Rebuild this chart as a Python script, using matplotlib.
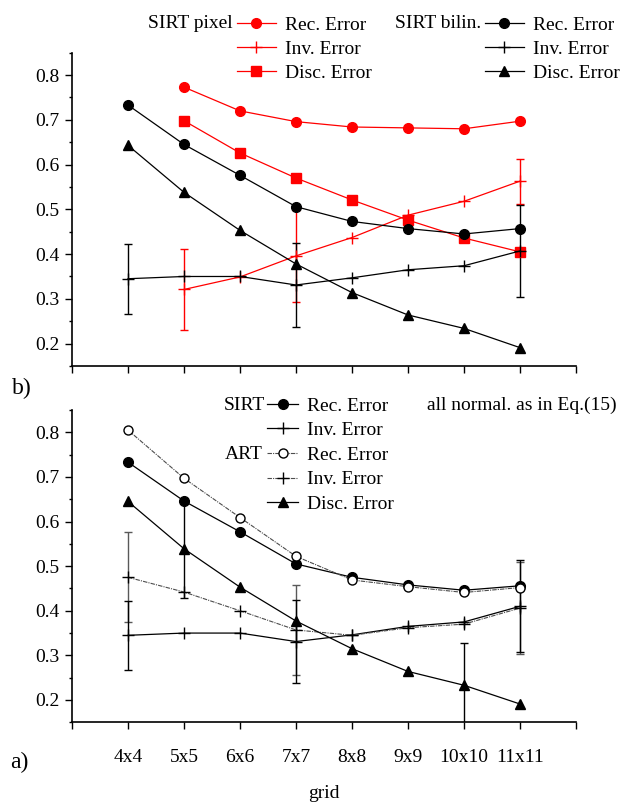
import numpy as np
import matplotlib
matplotlib.use("Agg")
import matplotlib.pyplot as plt
from matplotlib.ticker import MultipleLocator, FormatStrFormatter

nan = np.nan
grid = ['4x4', '5x5', '6x6', '7x7', '8x8', '9x9', '10x10', '11x11']

# ---- panel b) ----
pix_rec = [nan, 0.773, 0.720, 0.696, 0.684, 0.682, 0.680, 0.697]
pix_inv = [nan, 0.321, 0.349, 0.396, 0.437, 0.487, 0.518, 0.563]
pix_inv_err = [nan, 0.090, nan, 0.103, nan, nan, nan, 0.050]
pix_disc = [nan, 0.698, 0.626, 0.570, 0.521, 0.476, 0.436, 0.405]

bil_rec = [0.733, 0.645, 0.576, 0.506, 0.473, 0.457, 0.445, 0.457]
bil_inv = [0.345, 0.350, 0.350, 0.331, 0.347, 0.365, 0.374, 0.407]
bil_inv_err = [0.078, nan, nan, 0.094, nan, nan, nan, 0.103]
bil_disc = [0.643, 0.538, 0.453, 0.378, 0.314, 0.264, 0.234, 0.191]

# ---- panel a) ----
sirt_rec = [0.733, 0.646, 0.577, 0.505, 0.475, 0.458, 0.446, 0.456]
sirt_inv = [0.345, 0.350, 0.350, 0.331, 0.346, 0.365, 0.375, 0.410]
sirt_inv_err = [0.078, nan, nan, 0.094, nan, nan, nan, 0.103]
art_rec = [0.805, 0.697, 0.609, 0.522, 0.469, 0.454, 0.441, 0.452]
art_inv = [0.475, 0.442, 0.400, 0.357, 0.345, 0.362, 0.370, 0.406]
art_inv_err = [0.101, nan, nan, 0.100, nan, nan, nan, 0.103]
disc = [0.645, 0.539, 0.453, 0.377, 0.315, 0.264, 0.233, 0.191]
disc_err = [nan, 0.110, nan, nan, nan, nan, 0.095, nan]

plt.rcParams['font.family'] = ['Liberation Serif', 'DejaVu Serif']
FS = 14

W, H = 623, 802
fig = plt.figure(figsize=(W / 100, H / 100), dpi=100)


def px_ax(left, top, right, bottom):
    return fig.add_axes([left / W, 1 - bottom / H, (right - left) / W, (bottom - top) / H])


axb = px_ax(72, 52.7, 576, 366)
axa = px_ax(72, 410, 576, 722.3)

x = np.arange(len(grid))
RED = '#ff0000'
LW = 0.9


def errbars(ax, y, e, color, lw=1.0):
    y = np.asarray(y, float)
    e = np.asarray(e, float)
    m = ~np.isnan(e)
    ax.errorbar(x[m], y[m], yerr=e[m], fmt='none', ecolor=color, elinewidth=lw,
                capsize=2.8, capthick=lw, zorder=2)


def style(ax, show_labels):
    for s in ['top', 'right']:
        ax.spines[s].set_visible(False)
    for s in ['left', 'bottom']:
        ax.spines[s].set_linewidth(1.2)
    ax.set_xlim(-1, len(grid))
    ax.set_ylim(0.15, 0.85)
    ax.set_xticks(np.arange(-1, len(grid) + 1))
    if show_labels:
        ax.set_xticklabels([''] + grid + [''], fontsize=FS)
    else:
        ax.set_xticklabels([''] * (len(grid) + 2))
    ax.yaxis.set_major_locator(MultipleLocator(0.1))
    ax.yaxis.set_minor_locator(MultipleLocator(0.05))
    ax.yaxis.set_major_formatter(FormatStrFormatter('%.1f'))
    ax.set_yticks([0.2, 0.3, 0.4, 0.5, 0.6, 0.7, 0.8])
    ax.tick_params(axis='both', which='major', direction='out', length=5, width=1.0,
                   labelsize=FS, pad=4)
    ax.tick_params(axis='y', which='minor', direction='out', length=2.5, width=1.0)
    ax.tick_params(axis='x', which='minor', bottom=False)
    ax.tick_params(axis='x', pad=14)


# ---------- panel b ----------
errbars(axb, pix_inv, pix_inv_err, RED)
errbars(axb, bil_inv, bil_inv_err, 'black')
l1, = axb.plot(x, pix_rec, '-o', color=RED, lw=LW, ms=7, label='Rec. Error', zorder=3)
l2, = axb.plot(x, pix_inv, '-+', color=RED, lw=LW, ms=8, mew=1.0, label='Inv. Error', zorder=3)
l3, = axb.plot(x, pix_disc, '-s', color=RED, lw=LW, ms=6.5, label='Disc. Error', zorder=3)
k1, = axb.plot(x, bil_rec, '-o', color='black', lw=LW, ms=7, label='Rec. Error', zorder=3)
k2, = axb.plot(x, bil_inv, '-+', color='black', lw=LW, ms=8, mew=1.0, label='Inv. Error', zorder=3)
k3, = axb.plot(x, bil_disc, '-^', color='black', lw=LW, ms=7.5, label='Disc. Error', zorder=3)
style(axb, False)

leg_kw = dict(frameon=False, fontsize=FS, borderpad=0, borderaxespad=0,
              handlelength=2.0, handletextpad=0.45, labelspacing=0.33,
              loc='upper left', bbox_transform=fig.transFigure)
legr = fig.legend(handles=[l1, l2, l3], bbox_to_anchor=(237 / W, 1 - 16 / H), **leg_kw)
legk = fig.legend(handles=[k1, k2, k3], bbox_to_anchor=(485 / W, 1 - 16 / H), **leg_kw)
fig.text(233 / W, 1 - 24 / H, 'SIRT pixel', ha='right', va='center', fontsize=FS)
fig.text(481 / W, 1 - 24 / H, 'SIRT bilin.', ha='right', va='center', fontsize=FS)

# ---------- panel a ----------
ART_C = '0.3'
ART_LS = (0, (4, 1, 1, 1))
errbars(axa, art_inv, art_inv_err, '0.35')
errbars(axa, sirt_inv, sirt_inv_err, 'black')
errbars(axa, disc, disc_err, 'black')
a1, = axa.plot(x, sirt_rec, '-o', color='black', lw=LW, ms=7, label='Rec. Error', zorder=3)
a2, = axa.plot(x, sirt_inv, '-+', color='black', lw=LW, ms=8, mew=1.0, label='Inv. Error', zorder=3)
a3, = axa.plot(x, art_rec, linestyle=ART_LS, marker='o', mfc='white', mec='black', color=ART_C,
               lw=0.8, ms=6.5, label='Rec. Error', zorder=3)
a4, = axa.plot(x, art_inv, linestyle=ART_LS, marker='+', color=ART_C, mec='black', lw=0.8, ms=8,
               mew=1.0, label='Inv. Error', zorder=3)
a5, = axa.plot(x, disc, '-^', color='black', lw=LW, ms=7.5, label='Disc. Error', zorder=3)
style(axa, True)
axa.set_xlabel('grid', fontsize=FS, labelpad=14)

leg_kw2 = dict(leg_kw)
leg_kw2['handlelength'] = 1.6
leg_kw2['labelspacing'] = 0.36
lega = fig.legend(handles=[a1, a2, a3, a4, a5], bbox_to_anchor=(267 / W, 1 - 397 / H), **leg_kw2)
fig.text(265 / W, 1 - 405 / H, 'SIRT', ha='right', va='center', fontsize=FS)
fig.text(263 / W, 1 - 454 / H, 'ART', ha='right', va='center', fontsize=FS)
fig.text(427 / W, 1 - 405 / H, 'all normal. as in Eq.(15)', ha='left', va='center', fontsize=FS)

fig.text(12 / W, 1 - 388 / H, 'b)', ha='left', va='center', fontsize=FS + 3)
fig.text(10 / W, 1 - 762 / H, 'a)', ha='left', va='center', fontsize=FS + 3)

fig.savefig('out.png', dpi=100)
